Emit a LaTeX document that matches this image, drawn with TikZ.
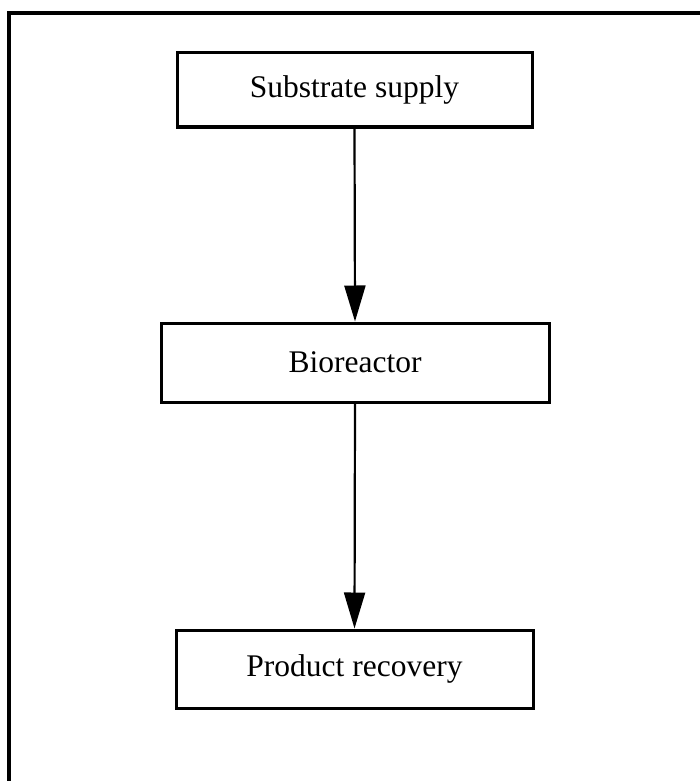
\documentclass[tikz,border=0pt]{standalone}
\usepackage{fontspec}
\setmainfont{Liberation Serif}
\usetikzlibrary{arrows.meta}
\begin{document}
\begin{tikzpicture}[x=1pt,y=-1pt,
  stage/.style={draw=black,line width=3pt,fill=white,inner sep=0pt,font=\fontsize{31.5}{36}\selectfont},
  flow/.style={line width=2.2pt,-{Triangle[length=36pt,width=21pt]}}]
\useasboundingbox (0,0) rectangle (700,781);
\fill[white] (0,0) rectangle (700,781);
\draw[line width=3.5pt] (9,781) -- (9,13) -- (700,13);
\node[stage,minimum width=355pt,minimum height=74pt] (s) at (354.5,90) {Substrate supply};
\node[stage,minimum width=388pt,minimum height=79pt] (b) at (355,362.5) {Bioreactor};
\node[stage,minimum width=357pt,minimum height=78pt] (p) at (354.5,669) {Product recovery};
\draw[flow] (s.south) -- (b.north);
\draw[flow] (b.south) -- (p.north);
\end{tikzpicture}
\end{document}
